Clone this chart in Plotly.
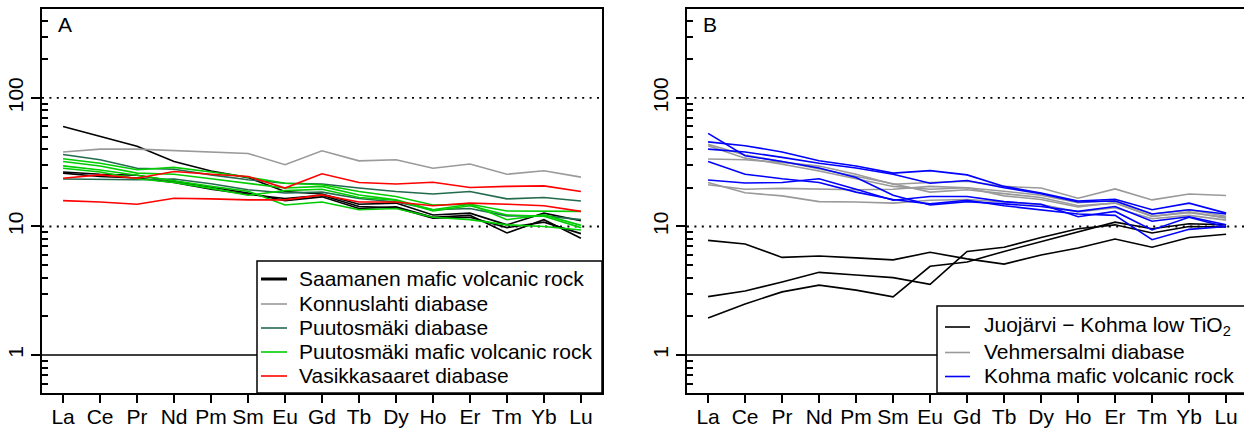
import plotly.graph_objects as go

# ---------------- data ----------------
elements = ["La", "Ce", "Pr", "Nd", "Pm", "Sm", "Eu", "Gd", "Tb", "Dy", "Ho", "Er", "Tm", "Yb", "Lu"]

# Panel A
saamanen = [
    [60, 50, 42, 32, 27, 24, 18.7, 17.9, 14.9, 15.2, 12.3, 12.7, 10.3, 12.7, 11.1],
    [26.5, 25.5, 25.0, 22.5, 20.0, 18.2, 15.9, 17.0, 13.8, 14.2, 11.8, 12.2, 8.9, 11.3, 8.1],
    [26.0, 24.5, 23.8, 22.0, 19.5, 17.8, 16.5, 17.5, 14.3, 14.0, 11.6, 11.8, 9.8, 10.8, 8.8],
]
konnuslahti = [
    [38, 40, 40, 39, 38, 37, 30.2, 38.8, 32.4, 33, 28.4, 30.6, 25.5, 27.1, 24.2],
]
puutosmaki_diabase = [
    [36.3, 33, 28.4, 27.9, 25.2, 23.1, 21.7, 21.4, 19.9, 18.7, 17.9, 18.7, 16.4, 16.8, 15.8],
    [23.4, 23.1, 23.1, 23.4, 21.5, 19.3, 18.2, 18.5, 16.5, 15.5, 13.5, 13.8, 12.1, 12.1, 11.3],
]
puutosmaki_volcanic = [
    [33.6, 31, 27.6, 28.8, 26.5, 24.2, 21.7, 21.1, 18.7, 17.1, 14.7, 14.9, 13.2, 13.2, 13.1],
    [32, 29.5, 26, 25.5, 23.5, 21.5, 19.9, 20.5, 17.6, 16.1, 13.5, 14.9, 11.3, 12.3, 10.2],
    [29.6, 27.5, 25.0, 22.5, 20.5, 18.8, 14.7, 15.5, 13.5, 13.8, 11.8, 11.3, 10.3, 10.0, 9.4],
    [28.4, 26.5, 23.5, 22.0, 19.8, 17.5, 19.0, 19.5, 16.8, 16.0, 13.2, 14.5, 12.3, 12.0, 9.8],
]
vasikkasaaret = [
    [23.7, 25.2, 23.7, 26.8, 25.5, 24.5, 19.9, 25.7, 22.0, 21.4, 22.1, 20.1, 20.5, 20.7, 18.7],
    [15.9, 15.5, 14.9, 16.6, 16.4, 16.1, 16.1, 17.6, 15.5, 15.5, 14.5, 15.2, 14.9, 14.5, 13.1],
]

# Panel B
juojarvi = [
    [7.8, 7.3, 5.75, 5.9, 5.7, 5.5, 6.3, 5.6, 5.1, 6.0, 6.8, 8.0, 6.9, 8.2, 8.7],
    [2.85, 3.15, 3.7, 4.4, 4.2, 4.0, 3.55, 6.4, 6.9, 8.2, 9.6, 10.3, 8.9, 10.0, 9.9],
    [1.94, 2.5, 3.1, 3.5, 3.2, 2.84, 4.9, 5.3, 6.4, 7.6, 9.0, 10.8, 9.6, 10.5, 10.3],
]
vehmersalmi = [
    [43.5, 36, 32, 28, 24.5, 21.5, 18.5, 19.3, 18.0, 16.8, 14.5, 15.2, 12.0, 13.0, 11.6],
    [42.4, 34, 30.5, 27, 23.5, 20.5, 19.5, 20.0, 18.8, 17.5, 15.3, 16.0, 12.5, 13.5, 12.0],
    [33.5, 33, 31.5, 29.5, 25.5, 21.3, 22.0, 22.5, 20.5, 19.9, 16.6, 19.6, 16.1, 17.9, 17.4],
    [22.0, 18.3, 17.3, 15.6, 15.5, 15.2, 16.0, 16.2, 15.5, 14.8, 13.0, 14.0, 11.5, 12.2, 11.2],
    [21.1, 19.5, 19.8, 19.5, 19.3, 19.5, 20.5, 20.0, 17.3, 16.2, 14.2, 15.3, 12.0, 12.8, 11.8],
]
kohma = [
    [53, 35.5, 32, 28.5, 24, 17.5, 14.7, 15.6, 15.0, 14.3, 13.1, 14.3, 11.0, 11.9, 10.3],
    [45.5, 42.5, 38, 32.5, 29.5, 26.0, 27.2, 25.2, 20.5, 18.2, 15.8, 16.3, 13.5, 15.2, 12.7],
    [40, 38, 34.5, 31, 28.5, 25.5, 21.7, 22.8, 20.0, 18.0, 15.5, 15.8, 12.5, 13.5, 12.5],
    [32, 25.5, 23.5, 22.0, 18.5, 16.2, 15.0, 16.0, 14.5, 13.5, 12.5, 12.2, 7.9, 9.5, 10.0],
    [23, 21.8, 22.0, 23.5, 19.5, 16.0, 17.1, 17.1, 15.6, 14.9, 11.9, 13.1, 9.4, 11.8, 9.9],
]

groups_a = [
    ("Saamanen mafic volcanic rock", saamanen, "#000000", 3),
    ("Konnuslahti diabase", konnuslahti, "#9a9a9a", 1.6),
    ("Puutosmäki diabase", puutosmaki_diabase, "#236b4e", 1.6),
    ("Puutosmäki mafic volcanic rock", puutosmaki_volcanic, "#00cd00", 1.6),
    ("Vasikkasaaret diabase", vasikkasaaret, "#ff0000", 1.6),
]
groups_b = [
    ("Juojärvi − Kohma low TiO<sub>2</sub>", juojarvi, "#000000", 1.6),
    ("Vehmersalmi diabase", vehmersalmi, "#9a9a9a", 1.6),
    ("Kohma mafic volcanic rock", kohma, "#0000ff", 1.6),
]

# ---------------- geometry (pixels) ----------------
W, H = 1244, 428
MT, MB = 9, 35
PH = H - MT - MB
A_L, A_R = 42, 602
B_L, B_R = 687, 1244
UNIT = 37.0  # px per category
FONT = "Liberation Sans, Arial, Helvetica, sans-serif"
FS = 21


def px(xp):
    return xp / W


def py(yp):
    return (H - MB - yp) / PH


fig = go.Figure()

for xa, ya, groups in (("x", "y", groups_a), ("x2", "y2", groups_b)):
    for name, series, color, _lw in groups:
        for vals in series:
            fig.add_trace(go.Scatter(
                x=elements, y=vals, mode="lines", xaxis=xa, yaxis=ya,
                line=dict(color=color, width=1.6), showlegend=False,
                hoverinfo="skip"))

minor_vals = [0.6, 0.7, 0.8, 0.9, 2, 3, 4, 5, 6, 7, 8, 9,
              20, 30, 40, 50, 60, 70, 80, 90, 200, 300, 400]

common_x = dict(
    type="category", categoryorder="array", categoryarray=elements,
    tickmode="array", tickvals=elements, ticktext=elements,
    ticks="outside", ticklen=8, tickwidth=1.5, tickcolor="black",
    ticklabelstandoff=-4,
    showline=True, linecolor="black", linewidth=1.5, mirror=True,
    showgrid=False, zeroline=False, automargin=False,
    tickfont=dict(family=FONT, size=FS, color="black"),
)
common_y = dict(
    type="log", range=[-0.295, 2.6915],
    tickmode="array", tickvals=[1, 10, 100], ticktext=["1", "10", "100"],
    tickangle=-90, ticks="outside", ticklen=9, tickwidth=1.5, tickcolor="black",
    minor=dict(tickmode="array", tickvals=minor_vals, ticks="inside",
               ticklen=6, tickwidth=1.5, tickcolor="black", showgrid=False),
    showline=True, linecolor="black", linewidth=1.5,
    showgrid=False, zeroline=False, automargin=False,
    tickfont=dict(family=FONT, size=FS, color="black"),
)

xa_a = dict(common_x)
xa_a.update(domain=[px(A_L), px(A_R)], range=[-0.57, 14.57], anchor="y")
xa_b = dict(common_x)
xa_b.update(domain=[px(B_L), px(B_R)],
            range=[-0.57, -0.57 + (B_R - B_L) / UNIT], anchor="y2")
ya_a = dict(common_y)
ya_a.update(domain=[0, 1], anchor="x", mirror=True)
ya_b = dict(common_y)
ya_b.update(domain=[0, 1], anchor="x2", mirror=False)

shapes = []
annotations = []

# reference lines
for xr in ("x", "x2"):
    yr = "y" if xr == "x" else "y2"
    for v in (10, 100):
        shapes.append(dict(type="line", xref=f"{xr} domain", yref=yr,
                           x0=0, x1=1, y0=v, y1=v, layer="below",
                           line=dict(color="black", width=1.8, dash="2px,5.4px")))
    shapes.append(dict(type="line", xref=f"{xr} domain", yref=yr,
                       x0=0, x1=1, y0=1, y1=1, layer="below",
                       line=dict(color="black", width=1.5)))


def add_legend(groups, box, line_x, text_x, rows):
    x0, y0, x1, y1 = box
    shapes.append(dict(type="rect", xref="paper", yref="paper",
                       x0=px(x0), x1=px(x1), y0=py(y1), y1=py(y0),
                       fillcolor="white", line=dict(color="black", width=1.5),
                       layer="above"))
    for (name, _s, color, lw), yrow in zip(groups, rows):
        shapes.append(dict(type="line", xref="paper", yref="paper",
                           x0=px(line_x[0]), x1=px(line_x[1]),
                           y0=py(yrow), y1=py(yrow), layer="above",
                           line=dict(color=color, width=lw)))
        annotations.append(dict(text=name, xref="paper", yref="paper",
                                x=px(text_x), y=py(yrow - 1), xanchor="left",
                                yanchor="middle", showarrow=False,
                                font=dict(family=FONT, size=FS, color="black")))


add_legend(groups_a, (257, 261, A_R, 393), (261, 287), 297,
           [279, 304, 328, 352, 376])
add_legend(groups_b, (937, 306, 1250, 393), (945, 970), 982,
           [327, 352.5, 376.5])

# panel letters
annotations.append(dict(text="A", xref="paper", yref="paper", x=px(56), y=py(25),
                        xanchor="left", yanchor="middle", showarrow=False,
                        font=dict(family=FONT, size=FS, color="black")))
annotations.append(dict(text="B", xref="paper", yref="paper", x=px(701), y=py(25),
                        xanchor="left", yanchor="middle", showarrow=False,
                        font=dict(family=FONT, size=FS, color="black")))

fig.update_layout(
    template="none",
    width=W, height=H,
    margin=dict(l=0, r=0, t=MT, b=MB, pad=0, autoexpand=False),
    paper_bgcolor="white", plot_bgcolor="white",
    font=dict(family=FONT, size=FS, color="black"),
    xaxis=xa_a, yaxis=ya_a, xaxis2=xa_b, yaxis2=ya_b,
    shapes=shapes, annotations=annotations,
    showlegend=False,
)

fig.write_html("out.html")
